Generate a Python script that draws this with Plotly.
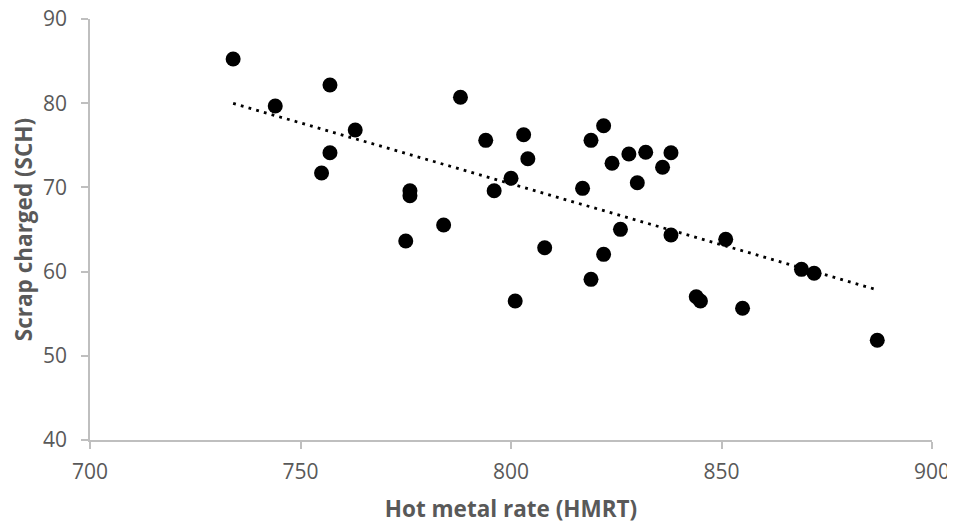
import numpy as np
import plotly.graph_objects as go

# Hot metal rate (HMRT)
hmrt = [734, 744, 757, 763, 757, 755, 788, 794, 803, 804, 800, 796, 776, 776,
        784, 775, 808, 822, 819, 824, 828, 832, 838, 836, 830, 817, 826, 838,
        851, 822, 819, 801, 869, 872, 844, 845, 855, 887]
# Scrap charged (SCH)
sch = [85.25, 79.67, 82.16, 76.82, 74.12, 71.71, 80.70, 75.59, 76.26, 73.41,
       71.08, 69.61, 69.6, 69.0, 65.53, 63.63, 62.84, 77.33, 75.59, 72.86,
       73.97, 74.17, 74.12, 72.39, 70.56, 69.89, 65.02, 64.35, 63.83, 62.05,
       59.08, 56.51, 60.27, 59.80, 57.02, 56.51, 55.64, 51.84]

x_ticks = [700, 750, 800, 850, 900]
y_ticks = [40, 50, 60, 70, 80, 90]

# linear trendline (least squares) over the data range
slope, intercept = np.polyfit(hmrt, sch, 1)
trend_x = [min(hmrt), max(hmrt)]
trend_y = [slope * v + intercept for v in trend_x]

fig = go.Figure()
fig.add_trace(go.Scatter(
    x=trend_x, y=trend_y, mode="lines",
    line=dict(color="black", width=2.8, dash="2.8px,5.2px"),
    hoverinfo="skip", showlegend=False,
))
fig.add_trace(go.Scatter(
    x=hmrt, y=sch, mode="markers",
    marker=dict(color="black", size=15, line=dict(width=0)),
    showlegend=False,
))

font_family = "Open Sans, Liberation Sans, sans-serif"
axis_common = dict(
    showgrid=False, zeroline=False, showline=True, automargin=False,
    linecolor="#bfbfbf", linewidth=1.5,
    ticks="outside", ticklen=7, tickwidth=1.5, tickcolor="#bfbfbf",
    tickfont=dict(family=font_family, size=21, color="#595959"),
    ticklabeloverflow="allow",
)

# the page body has an 8px margin, so the figure is sized to fit the window
fig.update_layout(
    width=947, height=517,
    margin=dict(l=82, r=23, t=11, b=85),
    paper_bgcolor="white", plot_bgcolor="white",
    xaxis=dict(range=[700, 900], tickvals=x_ticks,
               title=dict(text="<b>Hot metal rate (HMRT)</b>",
                          font=dict(family=font_family, size=22.5, color="#595959"),
                          standoff=17),
               ticklabelstandoff=5,
               **axis_common),
    yaxis=dict(range=[40, 90], tickvals=y_ticks,
               title=dict(text="<b>Scrap charged (SCH)</b>",
                          font=dict(family=font_family, size=22.5, color="#595959"),
                          standoff=6),
               ticklabelstandoff=10,
               **axis_common),
)

fig.write_html("out.html")
